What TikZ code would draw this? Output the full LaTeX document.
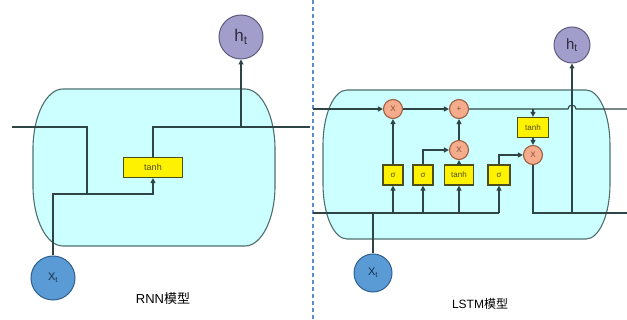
\documentclass[tikz,border=0pt]{standalone}
\usepackage{fontspec}
\setmainfont{Liberation Sans}
\newfontfamily\cjk{Noto Sans CJK SC}
\usepackage{tikz}
\usetikzlibrary{arrows.meta,calc,positioning}
\definecolor{cellfill}{HTML}{CCFFFF}
\definecolor{cellline}{HTML}{4F6E6E}
\definecolor{wirecol}{HTML}{2F4545}
\definecolor{boxline}{HTML}{4E4E1A}
\definecolor{opfill}{HTML}{F4AC8C}
\definecolor{opline}{HTML}{A05E40}
\definecolor{hfill}{HTML}{A29ECB}
\definecolor{hline}{HTML}{5E5A80}
\definecolor{xfill}{HTML}{5B9BD5}
\definecolor{xline}{HTML}{2F5F90}
\definecolor{sepcol}{HTML}{5B8BD0}
\begin{document}
\begin{tikzpicture}[x=1pt,y=-1pt,
    cell/.style={draw=cellline,fill=cellfill,line width=1.1pt},
    wire/.style={draw=wirecol,line width=1.1pt},
    arr/.style={wire,-{Triangle[length=5pt,width=5pt]}},
    gatebox/.style={draw=boxline,fill=yellow,line width=1.3pt,minimum height=20pt,inner sep=0pt,text=boxline,font=\fontsize{8}{8}\selectfont},
    op/.style={circle,draw=opline,fill=opfill,line width=1.1pt,minimum size=19pt,inner sep=0pt,text=opline!80!black,font=\fontsize{8}{8}\selectfont},
    hout/.style={circle,draw=hline,fill=hfill,line width=1pt,inner sep=0pt,text=hline!50!black},
    xin/.style={circle,draw=xline,fill=xfill,line width=1pt,inner sep=0pt,text=xline!50!black,font=\fontsize{11}{11}\selectfont}]
  \useasboundingbox (0,0) rectangle (627,320);
  % separator
  \draw[sepcol,line width=1.5pt,dash pattern=on 4pt off 3pt] (313,0) -- (313,320);
  % RNN cell
  \draw[cell] (63,89) -- (245,89) arc[start angle=-90,end angle=0,x radius=30,y radius=60] -- (275,186)
    arc[start angle=0,end angle=90,x radius=30,y radius=60] -- (63,246)
    arc[start angle=90,end angle=180,x radius=30,y radius=60] -- (33,149)
    arc[start angle=180,end angle=270,x radius=30,y radius=60] -- cycle;
  \node[gatebox,minimum width=59pt,font=\fontsize{9}{9}\selectfont] (rtanh) at (153,167.5) {tanh};
  \node[hout,minimum size=44pt,font=\fontsize{17}{17}\selectfont] (rht) at (241,37) {h\textsubscript{t}};
  \node[xin,minimum size=44pt] (rxt) at (53,278) {X\textsubscript{t}};
  \coordinate (rin) at (12,127);
  \coordinate (rjoin) at (87,194);
  \coordinate (rout) at (310,127);
  \coordinate (rsplit) at (241,127);
  \draw[wire] (rin) -| (rjoin);
  \draw[arr] (rxt) |- (rjoin) -| (rtanh.south);
  \draw[wire] (rtanh.north) |- (rout);
  \draw[arr] (rsplit) -- (rht);
  \node (rlabel) at (163,299) {\fontsize{13}{13}\selectfont RNN{\cjk 模型}};
  % LSTM cell
  \draw[cell] (347,90) -- (586,90) arc[start angle=-90,end angle=0,x radius=24,y radius=55] -- (610,184)
    arc[start angle=0,end angle=90,x radius=24,y radius=55] -- (347,239)
    arc[start angle=90,end angle=180,x radius=24,y radius=55] -- (323,145)
    arc[start angle=180,end angle=270,x radius=24,y radius=55] -- cycle;
  \node[op] (fx) at (393,109) {X};
  \node[op] (add) at (459,109) {+};
  \node[op] (ix) at (459,150) {X};
  \node[op] (ox) at (533,155) {X};
  \node[gatebox,minimum width=31pt] (utanh) at (533,127.5) {tanh};
  \node[gatebox,minimum width=20pt] (sg1) at (393,175) {σ};
  \node[gatebox,minimum width=20pt] (sg2) at (423,175) {σ};
  \node[gatebox,minimum width=29pt] (ltanh) at (459,175) {tanh};
  \node[gatebox,minimum width=22pt] (sg3) at (499,175) {σ};
  \node[hout,minimum size=36pt,font=\fontsize{15}{15}\selectfont] (lht) at (572,45) {h\textsubscript{t}};
  \node[xin,minimum size=38pt] (lxt) at (373,273) {X\textsubscript{t}};
  \coordinate (lin) at (313,109);
  \coordinate (tap) at (533,109);
  \coordinate (lbin) at (313,213);
  \coordinate (lout) at (627,213);
  \coordinate (hsplit) at (572,213);
  % top line
  \draw[arr] (lin) -- (fx);
  \draw[arr] (fx) -- (add);
  \draw[wire] (add) -- (568,109) arc[start angle=180,end angle=360,radius=4] -- (627,109);
  \draw[arr] (tap) -- (utanh);
  \draw[arr] (utanh) -- (ox);
  % gates
  \draw[arr] (sg1) -- (fx);
  \draw[arr] (sg2) |- (ix);
  \draw[arr] (ltanh) -- (ix);
  \draw[arr] (ix) -- (add);
  \draw[arr] (sg3) |- (ox);
  % bottom line
  \draw[wire] (lbin) -- (sg3 |- lbin);
  \draw[wire] (lxt) |- (sg1 |- lbin);
  \draw[arr] (sg1 |- lbin) -- (sg1);
  \draw[arr] (sg2 |- lbin) -- (sg2);
  \draw[arr] (ltanh |- lbin) -- (ltanh);
  \draw[arr] (sg3 |- lbin) -- (sg3);
  \draw[wire] (ox) |- (lout);
  \draw[arr] (hsplit) -- (lht);
  \node (llabel) at (480,304) {\fontsize{12}{12}\selectfont LSTM{\cjk 模型}};
\end{tikzpicture}
\end{document}
